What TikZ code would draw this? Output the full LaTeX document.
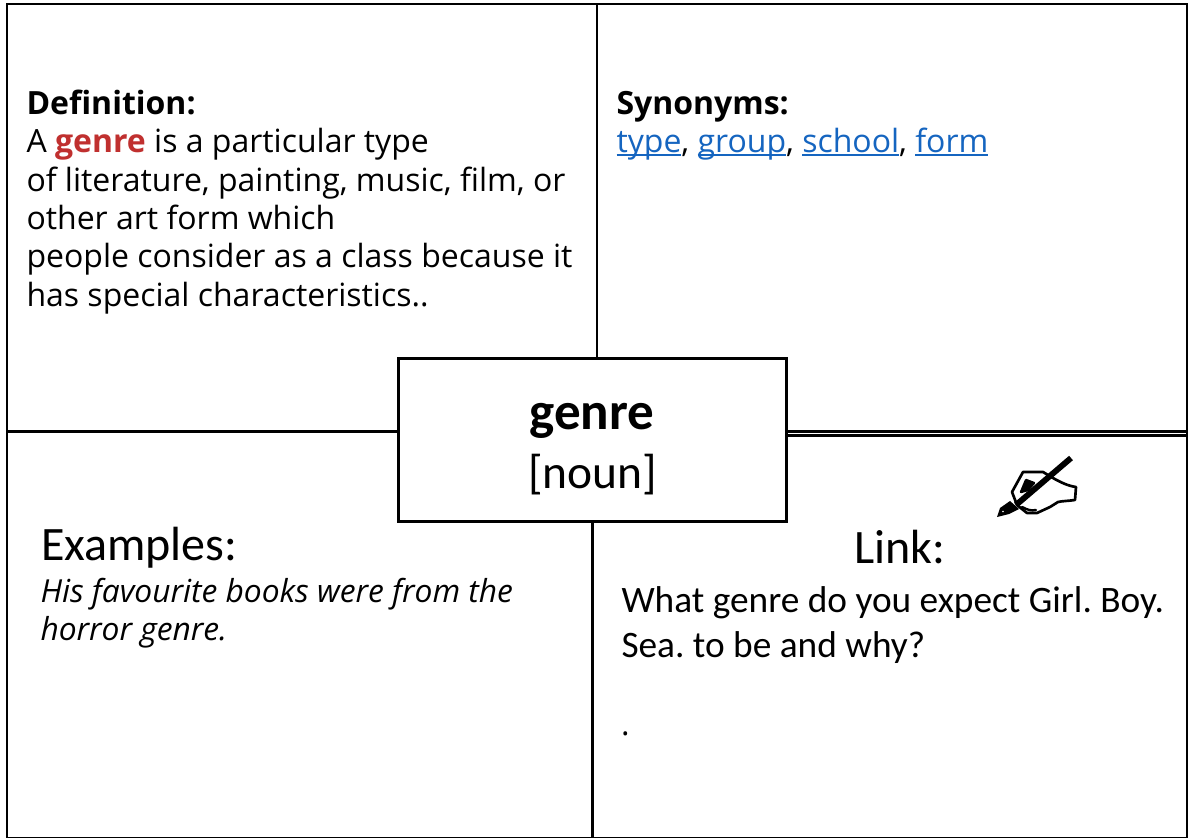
\documentclass[tikz,border=0pt]{standalone}
\usepackage{fontspec}
\setmainfont{Open Sans}
\newfontfamily\carlito{Carlito}
\definecolor{genrered}{HTML}{C0302F}
\definecolor{linkblue}{HTML}{1565C0}
\newsavebox{\lnkbox}
\newcommand{\lnk}[1]{\sbox{\lnkbox}{\color{linkblue}#1}{\color{linkblue}\rlap{\rule[-2.4pt]{\wd\lnkbox}{1pt}}\usebox{\lnkbox}}}
\tikzset{
  x=0.75pt,y=-0.75pt,
  frameline/.style={draw=black,line width=2.1pt},
  txt/.style={anchor=base west,inner sep=0pt,outer sep=0pt,text=black,execute at begin node=\frenchspacing},
  body/.style={txt,font=\fontsize{24}{24}\selectfont},
  big/.style={txt,font=\carlito\fontsize{36}{36}\selectfont},
  linktext/.style={txt,font=\carlito\fontsize{28}{30}\selectfont},
  centerbox/.style={draw=black,fill=white,line width=2.1pt,minimum width=291pt,minimum height=122.5pt,inner sep=0pt},
  centertxt/.style={anchor=base,inner sep=0pt,outer sep=0pt},
}
\begin{document}
\begin{tikzpicture}
\useasboundingbox (0,0) rectangle (1188,838);
\fill[white] (0,0) rectangle (1188,838);
\coordinate (tl) at (7,4); \coordinate (tr) at (1187,4);
\coordinate (bl) at (7,838); \coordinate (br) at (1187,838);
\coordinate (tm) at (597,4); \coordinate (ml) at (7,431.5);
\coordinate (mr) at (1187,431.5); \coordinate (mr2) at (1187,435.5);
\coordinate (mi) at (787,431.5); \coordinate (mi2) at (787,435.5);
\coordinate (bm) at (592.5,838); \coordinate (bt) at (592.5,522);
\coordinate (tb) at (597,358);
\draw[frameline] (bl) -- (tl) -- (tr) -- (br);
\draw[frameline] (bl) -- (br);
\draw[frameline] (tm) -- (tb);
\draw[frameline] (ml) -- (mi);
\draw[frameline] (mi) -- (mr);
\draw[frameline] (mi2) -- (mr2);
\draw[frameline] (bt) -- (bm);
\node[centerbox] (box) at (592.5,440) {};
\node[centertxt,font=\carlito\fontsize{39.8}{40}\selectfont\bfseries] (word) at (592,429) {genre};
\node[centertxt,font=\carlito\fontsize{35.6}{36}\selectfont] (pos) at (592.5,488) {[noun]};

\node[body] (d0) at (26.5,114.5) {\textbf{Definition:}};
\node[body] (d1) at (26.5,152.5) {A \textcolor{genrered}{\textbf{genre}} is a particular type};
\node[body] (d2) at (26.5,191) {of literature, painting, music, film, or};
\node[body] (d3) at (26.5,229) {other art form which};
\node[body] (d4) at (26.5,267.5) {people consider as a class because it};
\node[body] (d5) at (26.5,306) {has special characteristics..};

\node[body] (s0) at (616.5,114.5) {\textbf{Synonyms:}};
\node[body] (s1) at (616.5,152.5) {\lnk{type}, \lnk{group}, \lnk{school}, \lnk{form}};

\node[big] (e0) at (41,560) {Examples:};
\node[body,font=\fontsize{23.8}{24}\selectfont] (e1) at (40.5,602) {\itshape His favourite books were from the};
\node[body,font=\fontsize{23.8}{24}\selectfont] (e2) at (40.5,640) {\itshape horror genre.};

\node[big] (l0) at (854,563) {Link:};
\node[linktext] (l1) at (621.5,612) {What genre do you expect Girl. Boy.};
\node[linktext] (l2) at (621.5,657) {Sea. to be and why?};
\node[body] (l3) at (621,735) {.};

% pen and hand
\begin{scope}[line join=round,line cap=round]
\draw[line width=2pt,fill=white] (1023,472) -- (1043,472) -- (1053,478) .. controls (1060,482) and (1068,486) .. (1076,487) -- (1075,500) .. controls (1068,501) and (1062,501) .. (1058,502) -- (1050,507) -- (1037,513) -- (1027,513) -- (1017,505) -- (1012,492) -- cycle;
\draw[line width=1.8pt] (1022,507) .. controls (1028,510) and (1031,511) .. (1036,510);
\draw[line width=1.8pt,fill=black] (1026,480) -- (1034,483) -- (1028,490) -- (1021,492) -- cycle;
\draw[line width=4.4pt,line cap=butt] (1016,505) -- (1071,458);
\fill[black] (997,517) -- (1000,508) -- (1010,501) -- (1019,509) -- (1009,514) -- cycle;
\fill[white] (1003,511.5) circle (0.9);
\end{scope}
\end{tikzpicture}
\end{document}
